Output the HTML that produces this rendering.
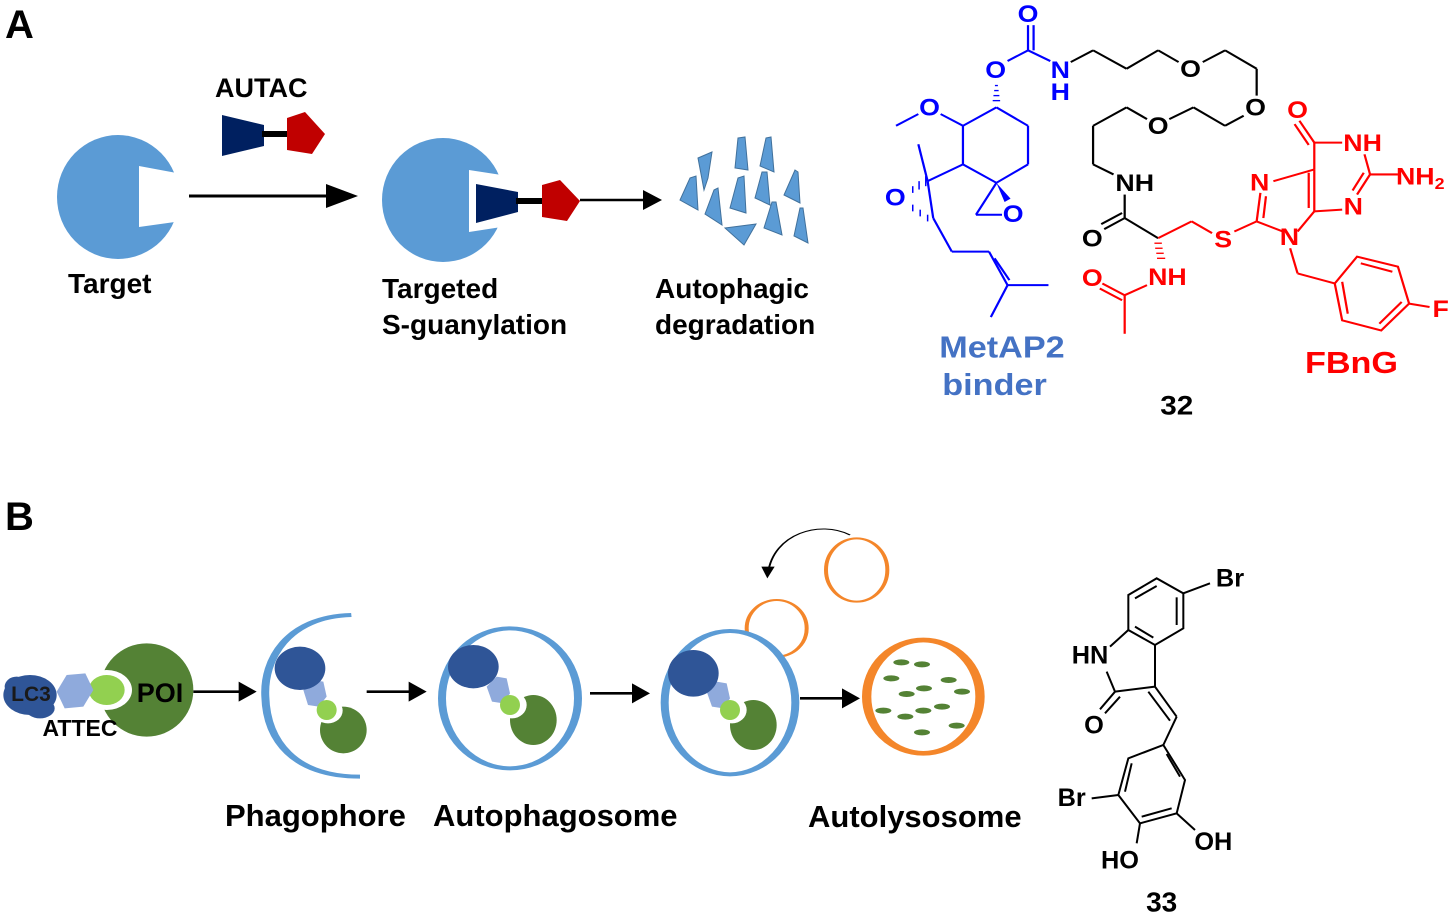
<!DOCTYPE html>
<html><head><meta charset="utf-8"><style>
html,body{margin:0;padding:0;background:#fff}
svg{display:block}
text{font-family:"Liberation Sans",Arial,sans-serif;font-weight:bold}
</style></head><body>
<svg width="1450" height="919" viewBox="0 0 1450 919" xmlns="http://www.w3.org/2000/svg">
<!-- Panel A -->
<text x="5" y="38" font-size="40">A</text>
<text x="215" y="97" font-size="27">AUTAC</text>
<polygon points="222,115 264,125 264,146 222,156" fill="#002060"/>
<rect x="262" y="131" width="26" height="6" fill="#000"/>
<polygon points="305,112 325,134 312,154 287,150 287,118" fill="#c00000"/>
<ellipse cx="118" cy="197" rx="61" ry="62" fill="#5b9bd5"/>
<polygon points="139,166 182,174 182,221 139,227" fill="#fff"/>
<line x1="189" y1="196" x2="330" y2="196" stroke="#000" stroke-width="3"/>
<polygon points="326,184 358,196 326,208" fill="#000"/>
<text x="68" y="293" font-size="28">Target</text>
<ellipse cx="443" cy="200" rx="61" ry="62" fill="#5b9bd5"/>
<polygon points="469,170 508,176 508,226 469,232" fill="#fff"/>
<polygon points="476,184 518,192 518,212 476,223" fill="#002060"/>
<rect x="516" y="198" width="27" height="6" fill="#000"/>
<polygon points="560,180 580,201 567,221 542,217 542,185" fill="#c00000"/>
<line x1="580" y1="200" x2="645" y2="200" stroke="#000" stroke-width="2.5"/>
<polygon points="643,190 662,200 643,210" fill="#000"/>
<g fill="#5b9bd5" stroke="#41719c" stroke-width="1">
<polygon points="698,158 712,152 708,178 704,190"/>
<polygon points="738,138 745,137 748,170 735,168"/>
<polygon points="766,138 771,137 774,172 760,166"/>
<polygon points="690,178 696,176 698,210 680,200"/>
<polygon points="714,190 718,188 722,225 705,214"/>
<polygon points="738,178 744,176 746,213 730,208"/>
<polygon points="762,172 767,172 770,205 755,198"/>
<polygon points="795,170 798,172 800,203 784,195"/>
<polygon points="772,202 776,202 782,235 764,228"/>
<polygon points="800,208 803,208 808,243 794,236"/>
<polygon points="725,228 756,224 744,245"/>
</g>
<text x="382" y="298" font-size="28">Targeted</text>
<text x="382" y="334" font-size="28">S-guanylation</text>
<text x="655" y="298" font-size="28">Autophagic</text>
<text x="655" y="334" font-size="28">degradation</text>

<!-- Compound 32 -->
<svg x="870" y="0" width="580" height="420" viewBox="0 0 1560 1252" preserveAspectRatio="none">
<g stroke-width="6" fill="none">
<g stroke="#0000ff">
<line x1="425" y1="150" x2="425" y2="75"/><line x1="440" y1="150" x2="440" y2="75"/>
<line x1="425" y1="150" x2="370" y2="182"/>
<line x1="425" y1="150" x2="485" y2="182"/>
<line x1="340" y1="320" x2="250" y2="375"/><line x1="340" y1="320" x2="425" y2="375"/>
<line x1="425" y1="375" x2="425" y2="490"/><line x1="425" y1="490" x2="340" y2="545"/>
<line x1="340" y1="545" x2="250" y2="490"/><line x1="250" y1="490" x2="250" y2="375"/>
<line x1="250" y1="375" x2="190" y2="340"/><line x1="130" y1="340" x2="70" y2="375"/>
<line x1="250" y1="490" x2="155" y2="540"/><line x1="155" y1="540" x2="130" y2="430"/>
<line x1="155" y1="540" x2="170" y2="650"/>
<line x1="340" y1="545" x2="285" y2="640"/><line x1="285" y1="640" x2="355" y2="640"/>
<line x1="170" y1="650" x2="220" y2="750"/><line x1="220" y1="750" x2="320" y2="750"/>
<line x1="320" y1="750" x2="370" y2="850"/><line x1="335" y1="770" x2="375" y2="835"/>
<line x1="370" y1="850" x2="480" y2="850"/><line x1="370" y1="850" x2="325" y2="945"/>
</g>
<g stroke="#0000ff" stroke-width="4">
<line x1="330" y1="300" x2="350" y2="300"/><line x1="332" y1="285" x2="348" y2="285"/><line x1="334" y1="270" x2="346" y2="270"/><line x1="336" y1="255" x2="344" y2="255"/>
<line x1="150" y1="555" x2="150" y2="525"/><line x1="132" y1="565" x2="132" y2="540"/><line x1="115" y1="575" x2="115" y2="555"/>
<line x1="155" y1="640" x2="155" y2="660"/><line x1="135" y1="625" x2="135" y2="645"/><line x1="115" y1="610" x2="115" y2="630"/>
</g>
<polygon points="340,545 378,592 362,602" fill="#0000ff" stroke="none"/>
<g stroke="#000">
<line x1="540" y1="185" x2="600" y2="150"/><line x1="600" y1="150" x2="690" y2="205"/>
<line x1="690" y1="205" x2="775" y2="150"/><line x1="775" y1="150" x2="830" y2="185"/>
<line x1="895" y1="185" x2="955" y2="150"/><line x1="955" y1="150" x2="1040" y2="205"/>
<line x1="1040" y1="205" x2="1040" y2="285"/><line x1="1005" y1="345" x2="955" y2="375"/>
<line x1="955" y1="375" x2="870" y2="320"/><line x1="870" y1="320" x2="805" y2="355"/>
<line x1="745" y1="355" x2="690" y2="320"/><line x1="690" y1="320" x2="600" y2="375"/>
<line x1="600" y1="375" x2="600" y2="490"/><line x1="600" y1="490" x2="655" y2="520"/>
<line x1="685" y1="580" x2="685" y2="650"/><line x1="685" y1="650" x2="630" y2="683"/><line x1="678" y1="635" x2="622" y2="668"/>
<line x1="685" y1="650" x2="775" y2="710"/>
</g>
<g stroke="#ff0000">
<line x1="775" y1="710" x2="865" y2="660"/><line x1="865" y1="660" x2="920" y2="695"/>
<line x1="980" y1="690" x2="1040" y2="660"/>
<line x1="745" y1="850" x2="685" y2="880"/><line x1="685" y1="880" x2="625" y2="845"/><line x1="678" y1="895" x2="618" y2="860"/>
<line x1="685" y1="880" x2="685" y2="995"/>
<line x1="1040" y1="660" x2="1050" y2="575"/><line x1="1058" y1="650" x2="1065" y2="585"/>
<line x1="1040" y1="660" x2="1110" y2="690"/>
<line x1="1085" y1="540" x2="1195" y2="505"/>
<line x1="1195" y1="505" x2="1195" y2="630"/><line x1="1180" y1="515" x2="1180" y2="620"/>
<line x1="1150" y1="690" x2="1195" y2="630"/>
<line x1="1195" y1="505" x2="1195" y2="425"/>
<line x1="1195" y1="425" x2="1155" y2="360"/><line x1="1180" y1="432" x2="1142" y2="370"/>
<line x1="1195" y1="425" x2="1270" y2="425"/>
<line x1="1330" y1="460" x2="1345" y2="520"/><line x1="1345" y1="520" x2="1420" y2="520"/>
<line x1="1345" y1="520" x2="1310" y2="580"/><line x1="1328" y1="515" x2="1298" y2="568"/>
<line x1="1270" y1="625" x2="1195" y2="630"/>
<line x1="1130" y1="740" x2="1150" y2="815"/><line x1="1150" y1="815" x2="1250" y2="845"/>
<polygon points="1250,845 1270,955 1375,985 1450,905 1420,795 1310,765"/>
<line x1="1270" y1="840" x2="1285" y2="935"/><line x1="1370" y1="965" x2="1430" y2="900"/><line x1="1405" y1="810" x2="1320" y2="785"/>
<line x1="1450" y1="905" x2="1505" y2="915"/>
</g>
<g stroke="#ff0000" stroke-width="4">
<line x1="765" y1="725" x2="785" y2="725"/><line x1="767" y1="740" x2="787" y2="740"/><line x1="770" y1="755" x2="790" y2="755"/><line x1="772" y1="770" x2="794" y2="770"/>
</g>
</g>
<g font-size="72" text-anchor="middle">
<g fill="#0000ff">
<text x="425" y="65">O</text><text x="338" y="232">O</text><text x="512" y="232">N</text><text x="512" y="298">H</text>
<text x="160" y="345">O</text><text x="68" y="612">O</text><text x="385" y="662">O</text>
</g>
<g fill="#000">
<text x="862" y="230">O</text><text x="1037" y="345">O</text><text x="775" y="400">O</text>
<text x="712" y="570">NH</text><text x="598" y="735">O</text>
</g>
<g fill="#ff0000">
<text x="1150" y="352">O</text><text x="1325" y="450">NH</text><text x="1480" y="550">NH<tspan font-size="48" dy="14">2</tspan></text>
<text x="1048" y="568">N</text><text x="1300" y="640">N</text><text x="1128" y="730">N</text>
<text x="950" y="738">S</text><text x="800" y="850">NH</text><text x="598" y="852">O</text><text x="1535" y="945">F</text>
</g>
</g>
<text x="355" y="1065" font-size="92" text-anchor="middle" fill="#4472c4">MetAP2</text>
<text x="335" y="1178" font-size="92" text-anchor="middle" fill="#4472c4">binder</text>
<text x="1295" y="1112" font-size="92" text-anchor="middle" fill="#ff0000">FBnG</text>
<text x="825" y="1235" font-size="80" text-anchor="middle" fill="#000">32</text>
</svg>

<!-- Panel B -->
<text x="5" y="530" font-size="40">B</text>
<svg x="0" y="520" width="1040" height="320" viewBox="0 0 1560 960" preserveAspectRatio="none">
<ellipse cx="220" cy="510" rx="70" ry="140" fill="#548235"/>
<ellipse cx="160" cy="510" rx="38" ry="60" fill="#fff"/>
<ellipse cx="160" cy="510" rx="27" ry="45" fill="#92d050"/>
<polygon points="85,515 100,465 128,460 140,510 125,560 97,565" fill="#8faadc"/>
<ellipse cx="45" cy="525" rx="40" ry="60" fill="#2f5597"/>
<ellipse cx="25" cy="500" rx="18" ry="30" fill="#2f5597"/><ellipse cx="60" cy="565" rx="22" ry="30" fill="#2f5597"/>
<g stroke="#000" stroke-width="8">
<line x1="290" y1="515" x2="360" y2="515"/><line x1="550" y1="515" x2="615" y2="515"/>
<line x1="885" y1="520" x2="950" y2="520"/><line x1="1200" y1="535" x2="1265" y2="535"/>
</g>
<polygon points="358,485 385,515 358,545" fill="#000"/>
<polygon points="613,485 640,515 613,545" fill="#000"/>
<polygon points="948,490 975,520 948,550" fill="#000"/>
<polygon points="1263,505 1290,535 1263,565" fill="#000"/>
<path d="M527,285 C430,290 395,420 398,530 C400,660 440,770 540,770" fill="none" stroke="#5b9bd5" stroke-width="12"/>
<ellipse cx="515" cy="630" rx="35" ry="70" fill="#548235"/>
<ellipse cx="492" cy="572" rx="22" ry="38" fill="#fff"/>
<polygon points="455,510 470,480 485,485 490,530 478,560 462,555" fill="#8faadc"/>
<ellipse cx="490" cy="570" rx="15" ry="30" fill="#92d050"/>
<ellipse cx="450" cy="445" rx="38" ry="65" fill="#2f5597"/>
<ellipse cx="765" cy="535" rx="102" ry="210" fill="none" stroke="#5b9bd5" stroke-width="12"/>
<ellipse cx="800" cy="600" rx="35" ry="75" fill="#548235"/>
<ellipse cx="768" cy="555" rx="22" ry="40" fill="#fff"/>
<polygon points="730,500 745,470 760,475 765,520 755,550 738,545" fill="#8faadc"/>
<ellipse cx="765" cy="555" rx="15" ry="30" fill="#92d050"/>
<ellipse cx="710" cy="440" rx="38" ry="65" fill="#2f5597"/>
<ellipse cx="1285" cy="150" rx="46" ry="95" fill="none" stroke="#f4862a" stroke-width="6"/>
<ellipse cx="1165" cy="325" rx="45" ry="85" fill="none" stroke="#f4862a" stroke-width="6"/>
<ellipse cx="1095" cy="548" rx="98" ry="215" fill="#fff" stroke="#5b9bd5" stroke-width="12"/>
<ellipse cx="1130" cy="615" rx="35" ry="75" fill="#548235"/>
<ellipse cx="1098" cy="570" rx="22" ry="40" fill="#fff"/>
<polygon points="1060,515 1075,485 1090,490 1095,535 1085,565 1068,560" fill="#8faadc"/>
<ellipse cx="1095" cy="570" rx="15" ry="30" fill="#92d050"/>
<ellipse cx="1040" cy="460" rx="38" ry="70" fill="#2f5597"/>
<path d="M1275,45 C1230,0 1160,40 1152,160" fill="none" stroke="#000" stroke-width="3"/>
<polygon points="1142,140 1162,140 1151,175" fill="#000"/>
<ellipse cx="1385" cy="530" rx="85" ry="170" fill="#fff" stroke="#f4862a" stroke-width="14"/>
<g fill="#548235">
<ellipse cx="1352" cy="427" rx="12" ry="9"/><ellipse cx="1383" cy="433" rx="12" ry="9"/>
<ellipse cx="1337" cy="475" rx="12" ry="9"/><ellipse cx="1423" cy="480" rx="12" ry="9"/>
<ellipse cx="1386" cy="505" rx="12" ry="9"/><ellipse cx="1360" cy="522" rx="12" ry="9"/>
<ellipse cx="1443" cy="515" rx="12" ry="9"/><ellipse cx="1413" cy="560" rx="12" ry="9"/>
<ellipse cx="1385" cy="572" rx="12" ry="9"/><ellipse cx="1325" cy="572" rx="12" ry="9"/>
<ellipse cx="1358" cy="590" rx="12" ry="9"/><ellipse cx="1435" cy="617" rx="12" ry="9"/>
<ellipse cx="1383" cy="637" rx="12" ry="9"/>
</g>
</svg>
<text x="31" y="701" font-size="21" text-anchor="middle" fill="#1a1a1a">LC3</text>
<text x="160" y="702" font-size="27" text-anchor="middle" fill="#000">POI</text>
<text x="80" y="736" font-size="23" text-anchor="middle" fill="#000">ATTEC</text>
<text x="225" y="826" font-size="31">Phagophore</text>
<text x="433" y="826" font-size="31">Autophagosome</text>
<text x="808" y="827" font-size="31">Autolysosome</text>

<!-- Compound 33 -->
<svg x="1040" y="550" width="260" height="369" viewBox="0 0 780 1107">
<g stroke="#000" stroke-width="6" fill="none">
<polygon points="265,135 350,85 430,130 430,235 345,285 265,240"/>
<line x1="285" y1="145" x2="350" y2="108"/><line x1="410" y1="142" x2="410" y2="225"/><line x1="340" y1="263" x2="285" y2="230"/>
<line x1="430" y1="130" x2="510" y2="100"/>
<line x1="265" y1="240" x2="210" y2="290"/>
<line x1="200" y1="365" x2="225" y2="425"/>
<line x1="225" y1="425" x2="345" y2="410"/><line x1="345" y1="410" x2="345" y2="285"/>
<line x1="225" y1="425" x2="180" y2="478"/><line x1="240" y1="440" x2="195" y2="490"/>
<line x1="345" y1="410" x2="410" y2="500"/><line x1="325" y1="425" x2="390" y2="512"/>
<line x1="410" y1="500" x2="370" y2="585"/>
<polygon points="370,585 435,690 410,790 300,820 235,735 265,625"/>
<line x1="380" y1="612" x2="420" y2="680"/><line x1="395" y1="775" x2="305" y2="800"/><line x1="275" y1="640" x2="255" y2="725"/>
<line x1="235" y1="735" x2="155" y2="745"/>
<line x1="300" y1="820" x2="290" y2="880"/>
<line x1="410" y1="790" x2="465" y2="840"/>
</g>
<g font-size="76" fill="#000" text-anchor="middle">
<text x="570" y="110">Br</text>
<text x="150" y="340">HN</text>
<text x="162" y="550">O</text>
<text x="95" y="768">Br</text>
<text x="240" y="955">HO</text>
<text x="520" y="900">OH</text>
<text x="365" y="1085" font-size="84">33</text>
</g>
</svg>
</svg>
</body></html>
